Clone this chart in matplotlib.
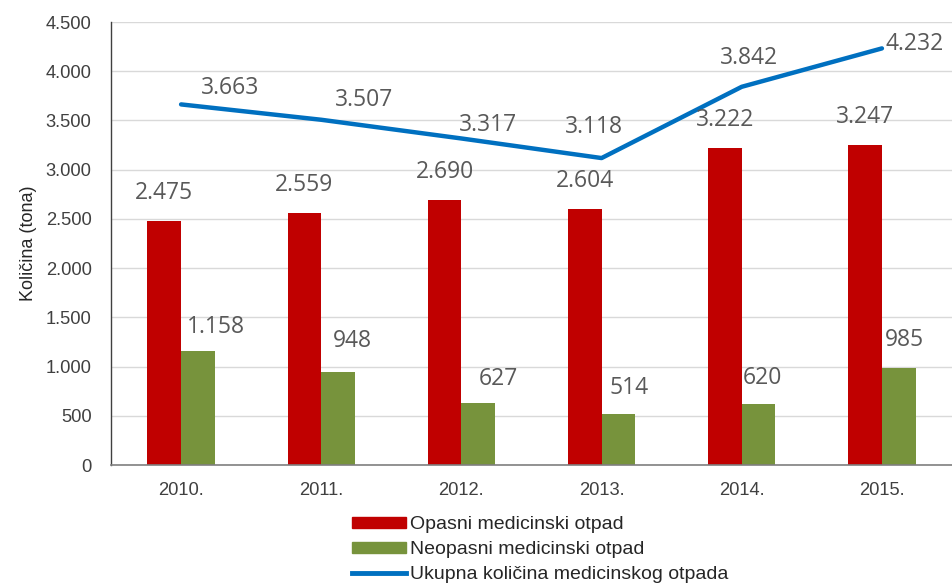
import matplotlib.pyplot as plt
import numpy as np
from matplotlib.lines import Line2D
from matplotlib.patches import Patch

years = ["2010.", "2011.", "2012.", "2013.", "2014.", "2015."]
opasni = [2475, 2559, 2690, 2604, 3222, 3247]
neopasni = [1158, 948, 627, 514, 620, 985]
ukupno = [3663, 3507, 3317, 3118, 3842, 4232]


def fmt(v):
    return f"{v:,}".replace(",", ".")


# label offsets for the total line (pixels)
line_offsets = [(49, 16), (43, 20), (27, 13), (-8, 31), (7, 29), (33, 4)]
green_offsets = [(18, 24), (14, 31), (20, 24), (11, 26), (4, 26), (6, 28)]

plt.rcParams["font.family"] = ["Liberation Sans", "DejaVu Sans"]

fig = plt.figure(figsize=(9.52, 5.87), dpi=100)
ax = fig.add_axes([0.1166, 0.2078, 0.8834, 0.7547])

x = np.arange(len(years))
w = 0.24
red = "#C00000"
green = "#77933C"
blue = "#0070C0"
gray = "#595959"

ax.bar(x - w / 2, opasni, w, color=red, zorder=2)
ax.bar(x + w / 2, neopasni, w, color=green, zorder=2)
ax.plot(x, ukupno, color=blue, lw=3.2, solid_capstyle="round", zorder=3)

px = 0.72
lab = dict(textcoords="offset points", ha="center", fontsize=16.5, color=gray,
           family=["Open Sans", "DejaVu Sans"])
for i in range(len(years)):
    ax.annotate(fmt(opasni[i]), (x[i] - w / 2, opasni[i]), xytext=(0, 28 * px),
                va="center", **lab)
    dx, dy = green_offsets[i]
    ax.annotate(fmt(neopasni[i]), (x[i] + w / 2, neopasni[i]), xytext=(dx * px, dy * px),
                va="center", **lab)
    dx, dy = line_offsets[i]
    ax.annotate(fmt(ukupno[i]), (x[i], ukupno[i]), xytext=(dx * px, dy * px),
                va="center", annotation_clip=False, **lab)

ax.set_xlim(-0.5, len(years) - 0.5)
ax.set_ylim(0, 4500)
ax.set_yticks(np.arange(0, 4501, 500))
ax.set_yticklabels([fmt(v) for v in range(0, 4501, 500)])
ax.set_xticks(x)
ax.set_xticklabels(years)
ax.tick_params(axis="both", length=0, labelsize=13.2, colors="#404040")
ax.tick_params(axis="x", pad=12)
ax.tick_params(axis="y", pad=14)
ax.grid(axis="y", color="#D9D9D9", lw=1, zorder=0)
ax.set_axisbelow(True)
for s in ["top", "right"]:
    ax.spines[s].set_visible(False)
ax.spines["left"].set_color("#404040")
ax.spines["bottom"].set_color("#7F7F7F")
ax.spines["left"].set_linewidth(1)
ax.spines["bottom"].set_linewidth(1.2)

ax.set_ylabel("Količina (tona)", fontsize=13, color="#262626", labelpad=6)

handles = [
    Patch(color=red, label="Opasni medicinski otpad"),
    Patch(color=green, label="Neopasni medicinski otpad"),
    Line2D([], [], color=blue, lw=3.5, label="Ukupna količina medicinskog otpada"),
]
fig.legend(handles=handles, loc="lower left", bbox_to_anchor=(0.355, -0.017),
           ncol=1, frameon=False, fontsize=14, handlelength=2.8, handleheight=0.5,
           handletextpad=0.2, labelspacing=0.42, labelcolor="#262626", borderpad=0.2)

fig.savefig("out.png", dpi=100)
